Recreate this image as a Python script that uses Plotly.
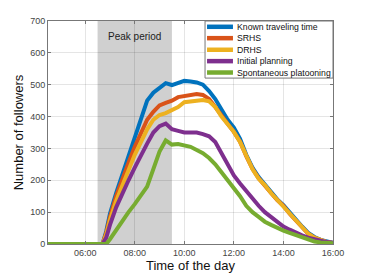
import plotly.graph_objects as go

hours = [4.5, 6.7, 6.85, 7.0, 7.25, 7.5, 7.75, 8.0, 8.25, 8.5, 8.75, 9.0, 9.25, 9.5, 9.75,
         10.0, 10.25, 10.5, 10.75, 11.0, 11.25, 11.5, 11.75, 12.0, 12.25, 12.5, 12.75,
         13.0, 13.25, 13.5, 13.75, 14.0, 14.25, 14.5, 14.75, 15.0, 15.25, 15.5, 15.75, 16.0]

known = [0, 0, 40, 95, 160, 220, 280, 336, 400, 450, 475, 490, 505, 499, 505,
         512, 510, 507, 500, 480, 455, 420, 390, 365, 330, 280, 240,
         210, 185, 160, 140, 122, 98, 75, 55, 35, 22, 13, 7, 4]
srhs = [0, 0, 35, 85, 150, 205, 255, 305, 350, 390, 415, 435, 443, 450, 461,
        465, 468, 471, 468, 455, 430, 402, 377, 352, 321, 276, 236,
        206, 185, 160, 138, 120, 95, 73, 53, 32, 20, 12, 6, 3]
drhs = [0, 0, 30, 75, 135, 185, 235, 280, 320, 360, 390, 405, 411, 420, 430,
        445, 448, 450, 452, 448, 430, 400, 375, 352, 320, 275, 235,
        205, 185, 160, 138, 120, 95, 73, 53, 32, 20, 12, 6, 3]
initial = [0, 0, 20, 60, 115, 160, 200, 240, 280, 315, 350, 370, 378, 360, 355,
           350, 350, 350, 345, 338, 320, 285, 250, 215, 190, 165, 140,
           120, 100, 85, 70, 55, 45, 35, 27, 20, 14, 10, 6, 4]
spont = [0, 0, 0, 15, 45, 75, 100, 125, 150, 180, 235, 290, 325, 312, 314,
         310, 305, 295, 285, 270, 250, 225, 200, 180, 150, 120, 100,
         85, 70, 60, 50, 42, 35, 28, 20, 14, 8, 5, 3, 2]

names = ["Known traveling time", "SRHS", "DRHS", "Initial planning", "Spontaneous platooning"]
colors = ["#0072BD", "#D95319", "#EDB120", "#7E2F8E", "#77AC30"]
series = [known, srhs, drhs, initial, spont]

tick_vals = [6, 8, 10, 12, 14, 16]
tick_text = ["06:00", "08:00", "10:00", "12:00", "14:00", "16:00"]
peak_start, peak_end = 6.5, 9.5

fig = go.Figure()
for n, c, s in zip(names, colors, series):
    fig.add_trace(go.Scatter(x=hours, y=s, name=n, mode="lines", showlegend=False,
                             line=dict(color=c, width=4)))

fig.add_shape(type="rect", xref="x", yref="paper", x0=peak_start, x1=peak_end,
              y0=0, y1=1, fillcolor="#d0d0d0", line_width=0, layer="below")
fig.add_annotation(x=(peak_start + peak_end) / 2, y=650, text="Peak period",
                   showarrow=False, font=dict(size=10, color="#222", family="Liberation Sans"))

# custom compact legend
leg_x0, leg_x1, leg_y0, leg_y1 = 0.551, 1.0, 0.744, 1.0
fig.add_shape(type="rect", xref="paper", yref="paper", x0=leg_x0, x1=leg_x1,
              y0=leg_y0, y1=leg_y1, fillcolor="white", line=dict(color="#777", width=1),
              layer="above")
row_y = [0.974, 0.923, 0.871, 0.820, 0.769]
for n, c, yy in zip(names, colors, row_y):
    fig.add_shape(type="line", xref="paper", yref="paper", x0=0.558, x1=0.649,
                  y0=yy, y1=yy, line=dict(color=c, width=4.5), layer="above")
    fig.add_annotation(xref="paper", yref="paper", x=0.655, y=yy, text=n,
                       xanchor="left", yanchor="middle", showarrow=False,
                       font=dict(size=8.7, color="#111", family="Liberation Sans"))

axis_common = dict(showline=True, linecolor="#777", linewidth=1, mirror="ticks",
                   ticks="inside", ticklen=3, tickcolor="#777", automargin=False,
                   gridcolor="rgba(0,0,0,0.10)", zeroline=False,
                   tickfont=dict(size=9, color="#444", family="Liberation Sans"))

fig.update_xaxes(range=[4.5, 16], tickvals=tick_vals, ticktext=tick_text,
                 title=dict(text="Time of the day", font=dict(size=13, color="#111"), standoff=3),
                 **axis_common)
fig.update_yaxes(range=[0, 700], dtick=100,
                 title=dict(text="Number of followers", font=dict(size=13, color="#111"), standoff=3),
                 **axis_common)

fig.update_layout(
    width=368, height=276,
    margin=dict(l=48, r=35, t=21, b=32, autoexpand=False),
    plot_bgcolor="white", paper_bgcolor="white",
    font=dict(family="Liberation Sans"),
    showlegend=False,
)

fig.write_html("out.html", config={"displayModeBar": False},
               post_script="document.body.style.margin='0';document.body.style.padding='0';")
